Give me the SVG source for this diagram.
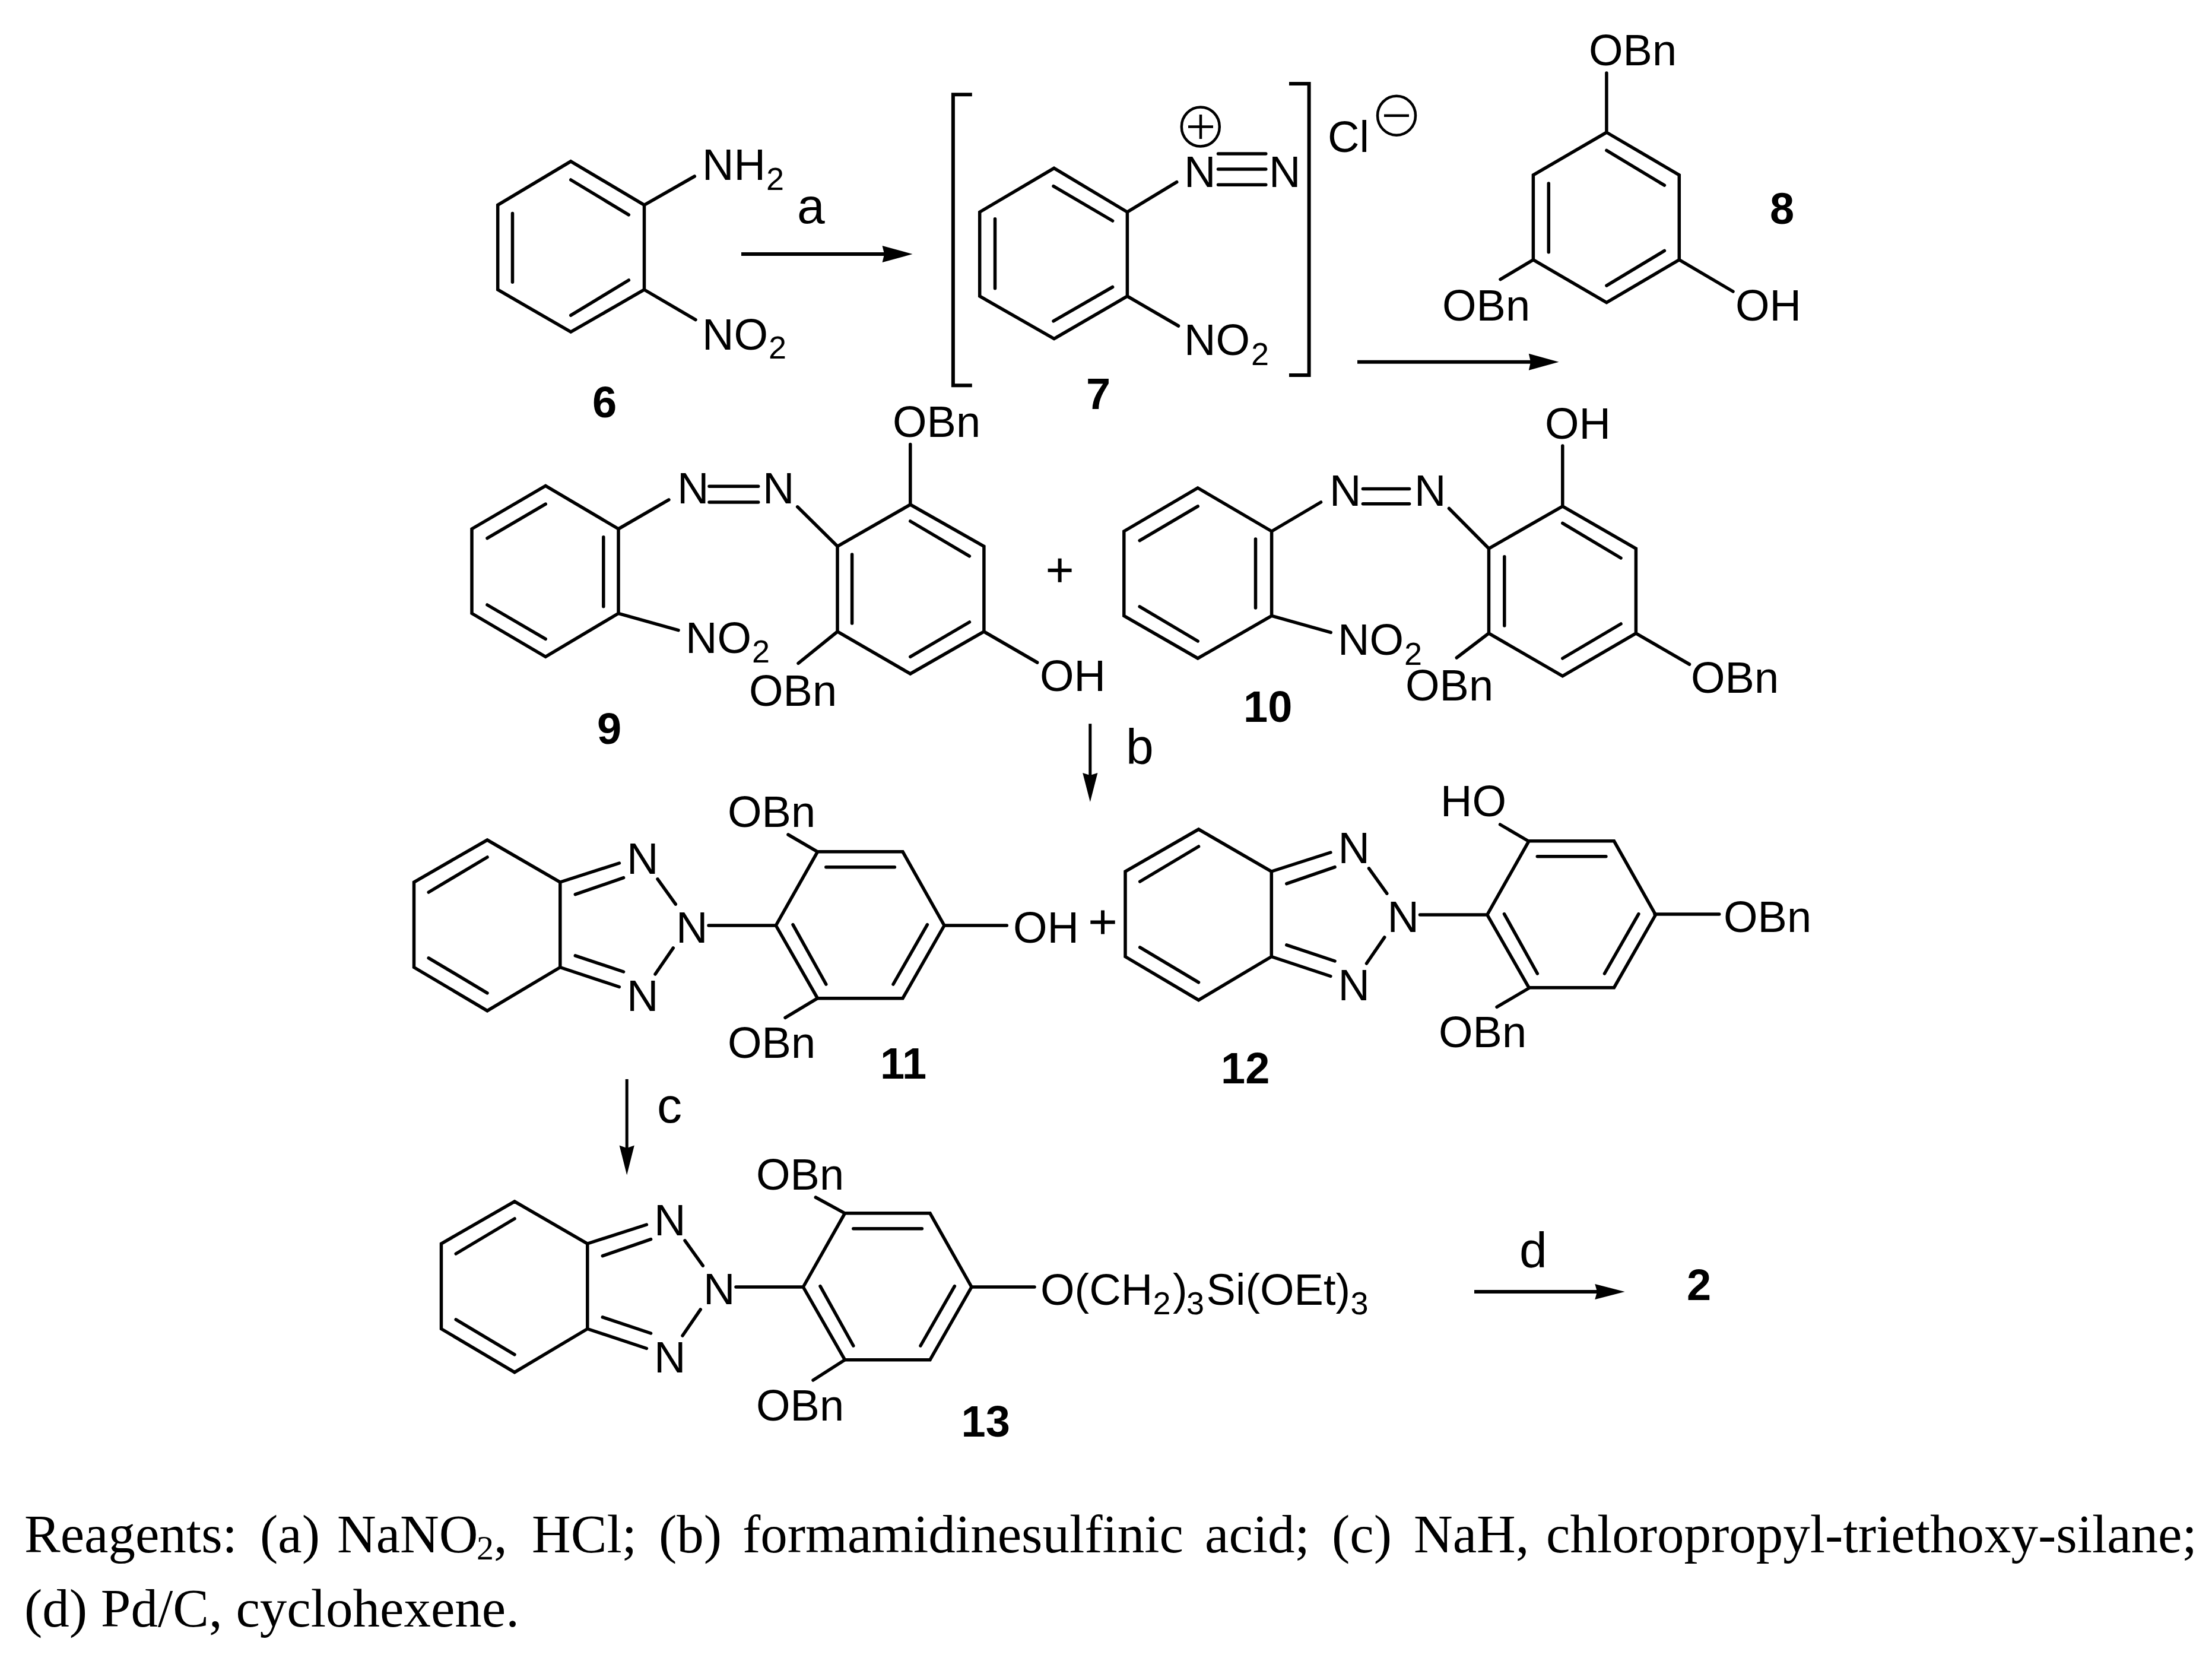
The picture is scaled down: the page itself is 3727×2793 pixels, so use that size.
<svg xmlns="http://www.w3.org/2000/svg" xmlns:xlink="http://www.w3.org/1999/xlink" width="3727" height="2793" viewBox="0 0 3727 2793">
<style>
text{font-family:"Liberation Sans",Arial,sans-serif;fill:#000}
.l{font-size:74px}
.s{font-size:54px}
.b{font-size:74px;font-weight:700}
.r{font-size:84px}
.t{font-family:"Liberation Serif","Times New Roman",serif;font-size:91px}
.ts{font-family:"Liberation Serif","Times New Roman",serif;font-size:58px}
path.bond{fill:none;stroke:#000;stroke-width:5.5;stroke-linecap:round;stroke-linejoin:miter}
.arrow{stroke:#000;stroke-width:6;fill:none}
.arrowv{stroke:#000;stroke-width:5;fill:none}
.head{fill:#000;stroke:none}
.charge{fill:none;stroke:#000;stroke-width:4.500}
</style>
<defs>
<g id="bt">
<path class="bond" d="M821 1415L943.800 1486V1629.500L821 1702.700L697.500 1629.500V1486ZM722.200 1503L821 1444M722.200 1613.800L821 1672.800M943.800 1486L1043.400 1454M969.300 1506.700L1050.600 1478.600M943.800 1629.500L1043.400 1662.500M969.300 1609.800L1050.600 1637M1108 1480.800L1138.300 1523.200M1134.300 1596.900L1104 1641M1194 1559H1307.300M1307.300 1559L1377.500 1434.800H1521L1591 1559L1521 1681.700H1377.500ZM1391.800 1460.700H1507.400M1336 1557.600L1391.800 1658M1562.400 1557.600L1505 1658"/>
<text class="l" x="1056" y="1472">N</text><text class="l" x="1139" y="1588">N</text><text class="l" x="1056" y="1703">N</text>
</g>
</defs>
<rect width="3727" height="2793" fill="#fff"/>

<g id="compound-6">
<path class="bond" d="M961.800 271.800L1085.500 345.300V488L961.800 559.200L838.700 488V345.300ZM961.800 303L1059.300 361.800M863.500 359.500V475.200M961.800 531.200L1059.300 472M1085.500 345.300L1170.300 297M1085.500 488L1172 538.600"/>
<text class="l" x="1183" y="303">NH</text><text class="s" x="1291" y="320">2</text>
<text class="l" x="1183" y="589">NO</text><text class="s" x="1295" y="604">2</text>
<text class="b" x="998" y="703">6</text>
</g>

<g id="compound-7">
<path class="bond" d="M1637.800 159.300H1605.900V649.200H1637.800M2172 141H2205.600V632H2172" style="stroke-width:6;stroke-linecap:butt"/>
<path class="bond" d="M1776 283.300L1899.400 357.200V499L1776 570.700L1650.700 499V357.200ZM1775 313.600L1874.600 372M1676.500 368.700V485.800M1775 540.900L1874.600 483.500M1899.400 357.200L1982.700 306.700M1899.400 499L1985.500 549M2052.500 259H2132.800M2052.500 285H2132.800M2052.500 311.300H2132.800"/>
<text class="l" x="1995" y="314.500">N</text><text class="l" x="2138" y="314.500">N</text>
<ellipse class="charge" cx="2022.800" cy="213.500" rx="32" ry="33"/>
<path class="charge" d="M2002 213.500H2044M2023 193V234"/>
<text class="l" x="1995" y="598">NO</text><text class="s" x="2108" y="615">2</text>
<text class="b" x="1830" y="689">7</text>
<text class="l" x="2237" y="256">Cl</text>
<ellipse class="charge" cx="2353" cy="194.700" rx="32" ry="33"/>
<path class="charge" d="M2332 194.700H2374"/>
</g>

<g id="compound-8">
<path class="bond" d="M2706.900 223L2829.300 294.800V437.600L2706.900 509.600L2583.400 437.600V294.800ZM2706.900 253.400L2804.400 312.200M2609.300 309V424.700M2804.400 422.400L2706.900 481.200M2706.900 223V123M2583.400 437.600L2528 470.600M2829.300 437.600L2920 491"/>
<text class="l" x="2677" y="110">OBn</text><text class="l" x="2430" y="539.500">OBn</text><text class="l" x="2924" y="539.500">OH</text>
<text class="b" x="2982" y="376.500">8</text>
</g>

<g id="compound-9">
<path class="bond" d="M919.200 818.400L1042 891V1033.300L919.200 1106.300L795 1033.300V891ZM821 906.600L919.200 849.200M1016.800 904.700V1021.800M821 1019L919.200 1076.400M1042 891L1126.900 841.800M1042 1033.300L1143 1061.700M1195 819.300H1277.700M1195 846H1277.700M1343.700 853.800L1411 920.300M1533.800 850L1657.900 920.300V1064L1533.800 1135L1411 1064V920.300ZM1533.800 878L1633.400 936.900M1435.600 934V1050M1633.400 1048L1533.800 1106.300M1533.800 850V748.600M1411 1064L1345 1117.300M1657.900 1064L1747.700 1116"/>
<text class="l" x="1141" y="848">N</text><text class="l" x="1285" y="848">N</text>
<text class="l" x="1155" y="1100">NO</text><text class="s" x="1267" y="1115.500">2</text>
<text class="l" x="1504" y="736">OBn</text><text class="l" x="1262" y="1189">OBn</text><text class="l" x="1752" y="1164">OH</text>
<text class="b" x="1006" y="1253">9</text>
</g>

<g id="plus-1"><path class="bond" style="stroke-width:6;stroke-linecap:butt" d="M1765.600 960.700H1805.600M1785.600 940.700V980.700"/></g>

<g id="compound-10">
<path class="bond" d="M2018.200 822L2142.600 895V1037.400L2018.200 1109L1893.800 1037.400V895ZM1920.200 910.700L2018.200 852.800M2115.500 908V1024M1920.200 1021.800L2018.200 1080M2142.600 895L2225.500 846M2142.600 1037.400L2242.200 1065.400M2296.400 823.500H2374.600M2296.400 848.700H2374.600M2441.500 856.500L2508.500 924M2632.800 852.800L2756.400 924V1066.800L2632.800 1138.900L2508.500 1066.800V924ZM2632.800 881.300L2731 940M2534.800 937.800V1054M2731 1051L2632.800 1109M2632.800 852.800V751M2508.500 1066.800L2454.300 1108M2756.400 1066.800L2846.500 1119"/>
<text class="l" x="2240" y="851.500">N</text><text class="l" x="2383" y="851.500">N</text>
<text class="l" x="2254" y="1103">NO</text><text class="s" x="2366" y="1120">2</text>
<text class="l" x="2603" y="739">OH</text><text class="l" x="2368" y="1180">OBn</text><text class="l" x="2849" y="1167">OBn</text>
<text class="b" x="2095" y="1215.600">10</text>
</g>

<g id="compound-11">
<use xlink:href="#bt" href="#bt"/>
<path class="bond" d="M1377.500 1434.800L1328 1406M1377.500 1681.700L1323 1714.300M1591 1559H1696.300"/>
<text class="l" x="1226" y="1393">OBn</text><text class="l" x="1226" y="1782">OBn</text><text class="l" x="1707" y="1588">OH</text>
<text class="b" x="1483" y="1817">11</text>
</g>

<g id="plus-2"><path class="bond" style="stroke-width:6;stroke-linecap:butt" d="M1837.300 1553.600H1878.700M1858 1533.600V1573.600"/></g>

<g id="compound-12">
<use xlink:href="#bt" href="#bt" x="1198.500" y="-18"/>
<path class="bond" d="M2575.400 1417L2527.600 1389M2575.400 1665L2522 1696.400M2788 1540H2896.700"/>
<text class="l" x="2427" y="1374.600">HO</text><text class="l" x="2424" y="1764">OBn</text><text class="l" x="2904" y="1570">OBn</text>
<text class="b" x="2057" y="1825">12</text>
</g>

<g id="compound-13">
<use xlink:href="#bt" href="#bt" x="46" y="609"/>
<path class="bond" d="M1423.500 2043.800L1374.300 2017M1423.500 2290.700L1370 2325M1637 2168H1743"/>
<text class="l" x="1274" y="2003.600">OBn</text><text class="l" x="1274" y="2393">OBn</text>
<text class="l" x="1753" y="2198">O(CH</text><text class="s" x="1942.600" y="2214">2</text><text class="l" x="1976" y="2198">)</text><text class="s" x="1999" y="2214">3</text><text class="l" x="2032.600" y="2198">Si(OEt)</text><text class="s" x="2275.400" y="2214">3</text>
<text class="b" x="1619.500" y="2419.600">13</text>
</g>

<g id="compound-2"><text class="b" x="2842" y="2190">2</text></g>

<g id="connectors">
<path class="arrow" d="M1249 428H1495"/><path class="head" d="M1486.600 414L1537.600 428L1486.600 442L1490 428Z"/>
<path class="arrow" d="M2287 609.700H2585"/><path class="head" d="M2575.800 595.700L2626.500 609.700L2575.800 623.700L2579 609.700Z"/>
<path class="arrowv" d="M1836.800 1219.200V1310"/><path class="head" d="M1824.200 1301.900L1836.800 1351L1849.400 1301.900L1836.800 1306Z"/>
<path class="arrowv" d="M1056.200 1817.900V1938"/><path class="head" d="M1043.600 1929.500L1056.200 1979.500L1068.800 1929.500L1056.200 1934Z"/>
<path class="arrow" d="M2484 2176H2695"/><path class="head" d="M2687.300 2163L2737.700 2176L2687.300 2189L2691 2176Z"/>
</g>

<g id="labels">
<text class="r" x="1343" y="375.600">a</text>
<text class="r" x="1897" y="1286.700">b</text>
<text class="r" x="1107" y="1890.600">c</text>
<text class="r" x="2560" y="2135">d</text>
</g>

<g id="caption">
<text class="t" y="2615"><tspan x="41">Reagents:</tspan><tspan x="438">(a)</tspan><tspan x="568">NaNO</tspan></text>
<text class="ts" x="803" y="2627">2</text>
<text class="t" y="2615"><tspan x="832">,</tspan><tspan x="896">HCl;</tspan><tspan x="1110">(b)</tspan><tspan x="1251">formamidinesulfinic</tspan><tspan x="2030">acid;</tspan><tspan x="2244">(c)</tspan><tspan x="2382">NaH,</tspan><tspan x="2605">chloropropyl-triethoxy-silane;</tspan></text>
<text class="t" x="41" y="2740">(d) Pd/C, cyclohexene.</text>
</g>
</svg>
